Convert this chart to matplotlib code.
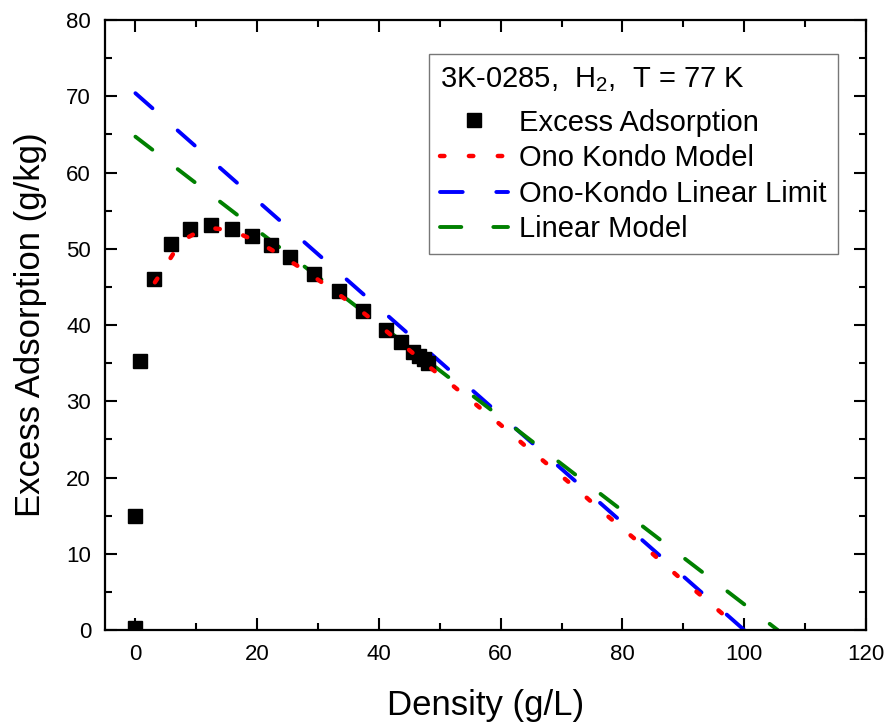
import matplotlib
matplotlib.use("Agg")
import matplotlib.pyplot as plt
from matplotlib.ticker import MultipleLocator

plt.rcParams['font.family'] = ['Liberation Sans', 'DejaVu Sans']
plt.rcParams['mathtext.fontset'] = 'custom'
plt.rcParams['mathtext.rm'] = 'Liberation Sans'
plt.rcParams['mathtext.default'] = 'regular'

# measured excess adsorption (H2, 77 K)
density = [0.0, 0.0, 0.8, 3.0, 5.9, 9.0, 12.4, 15.8, 19.1, 22.3, 25.4, 29.3,
           33.4, 37.4, 41.2, 43.7, 45.6, 46.6, 47.4, 48.1]
excess = [0.2, 15.0, 35.3, 46.0, 50.6, 52.6, 53.1, 52.6, 51.7, 50.5, 48.9, 46.7,
          44.4, 41.8, 39.3, 37.8, 36.5, 36.0, 35.5, 35.0]

# Ono-Kondo model curve
ok_x = [3.2, 5.0, 7.5, 11.6, 15.8, 19.9, 24.0, 28.1, 32.4, 36.5, 40.6, 44.7,
        48.6, 51.6, 55.9, 60.0, 64.1, 68.2, 72.5, 76.6, 80.9, 84.8, 88.9,
        93.4, 97.2, 99.0]
ok_y = [45.6, 47.8, 51.0, 52.8, 52.4, 51.0, 49.1, 47.0, 44.6, 42.2, 39.6, 36.9,
        34.3, 32.4, 29.6, 26.9, 24.1, 21.4, 18.5, 15.6, 12.7, 10.1, 7.2,
        4.2, 1.6, 0.4]

# Ono-Kondo linear limit and linear model
okl_x = [0.0, 100.0]
okl_y = [70.4, 0.0]
lin_x = [0.0, 105.5]
lin_y = [64.7, 0.0]

fig = plt.figure(figsize=(8.86, 7.25), dpi=100)
ax = fig.add_axes([0.1185, 0.131, 0.8589, 0.8414])

lw = 2.8
ax.plot(density, excess, ls='none', marker='s', ms=9.5, color='black',
        label='Excess Adsorption', zorder=3)
ax.plot(ok_x, ok_y, color='red', lw=3.2, ls=(0, (1.0, 5.5)),
        dash_capstyle='round', label='Ono Kondo Model', zorder=4)
ax.plot(okl_x, okl_y, color='blue', lw=lw, ls=(0, (5.84, 8.64)),
        dash_capstyle='round', label='Ono-Kondo Linear Limit', zorder=2)
ax.plot(lin_x, lin_y, color='green', lw=lw, ls=(0, (5.48, 8.23)),
        dash_capstyle='round', label='Linear Model', zorder=2)

ax.set_xlim(-5, 120)
ax.set_ylim(0, 80)
ax.xaxis.set_major_locator(MultipleLocator(20))
ax.xaxis.set_minor_locator(MultipleLocator(10))
ax.yaxis.set_major_locator(MultipleLocator(10))
ax.yaxis.set_minor_locator(MultipleLocator(5))
ax.tick_params(which='both', direction='in', top=True, right=True, width=1.5)
ax.tick_params(which='major', length=8.5, labelsize=16, pad=10)
ax.tick_params(which='minor', length=5)
for s in ax.spines.values():
    s.set_linewidth(1.6)

ax.set_xlabel('Density (g/L)', fontsize=25, labelpad=17)
ax.set_ylabel('Excess Adsorption (g/kg)', fontsize=25, labelpad=14)

leg = ax.legend(loc='upper right', bbox_to_anchor=(0.963, 0.944), borderaxespad=0,
                title='3K-0285,  H$_2$,  T = 77 K', fontsize=21, title_fontsize=21,
                numpoints=1, handlelength=2.3, handletextpad=0.4,
                labelspacing=0.26, borderpad=0.38, fancybox=False,
                framealpha=1, edgecolor='#777777', alignment='left')
leg.get_frame().set_linewidth(1.0)
# a bit more room between the legend title and the entries
leg._legend_box.sep = 0.26 * 21 + 5.0

fig.savefig('out.png', dpi=100)
